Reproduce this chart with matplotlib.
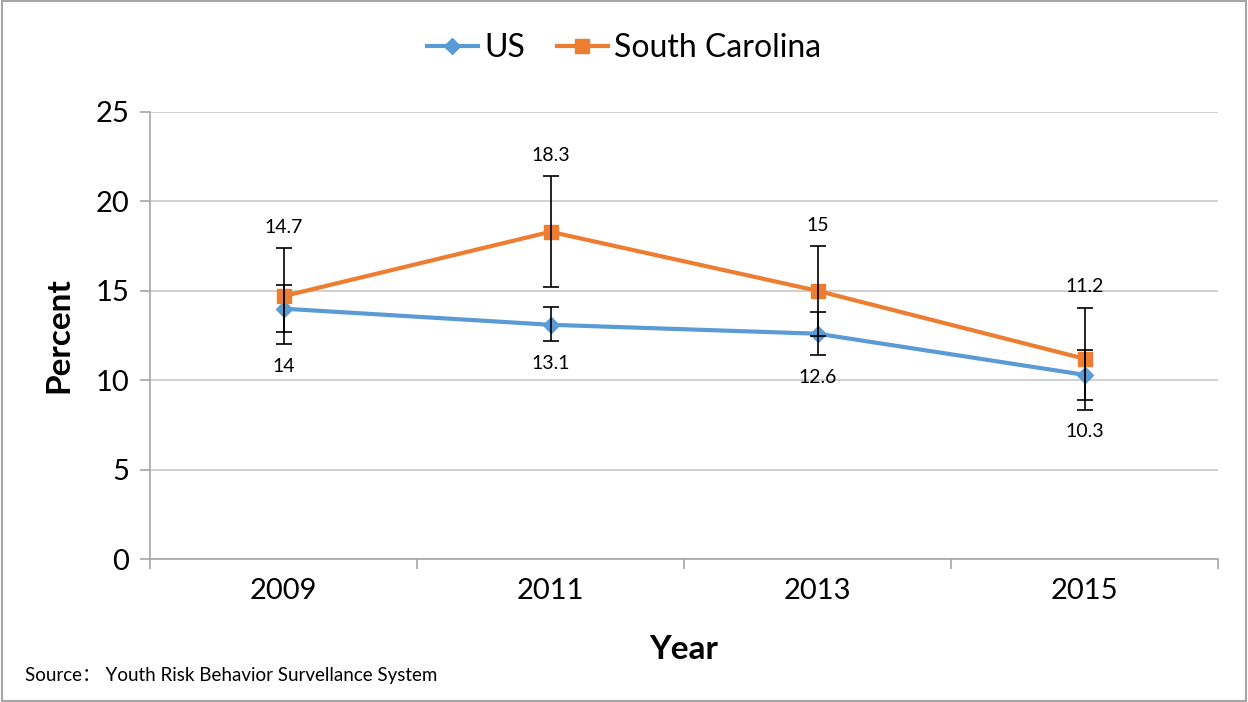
import matplotlib
matplotlib.use("Agg")
import matplotlib.pyplot as plt
from matplotlib.patches import Rectangle

plt.rcParams['font.family'] = ['Lato', 'Noto Sans CJK SC', 'DejaVu Sans']

# données
years = ["2009", "2011", "2013", "2015"]
us = [14, 13.1, 12.6, 10.3]
us_low = [12.7, 12.2, 11.4, 8.9]
us_high = [15.3, 14.1, 13.8, 11.7]
sc = [14.7, 18.3, 15, 11.2]
sc_low = [12.0, 15.2, 12.5, 8.35]
sc_high = [17.4, 21.4, 17.5, 14.05]

blue = "#5b9bd5"
orange = "#ed7d31"

fig = plt.figure(figsize=(12.48, 7.02), dpi=100)
ax = fig.add_axes([150 / 1248, 1 - 559 / 702, (1218 - 150) / 1248, (559 - 112) / 702])

x = list(range(len(years)))

us_err = [[v - l for v, l in zip(us, us_low)], [h - v for v, h in zip(us, us_high)]]
sc_err = [[v - l for v, l in zip(sc, sc_low)], [h - v for v, h in zip(sc, sc_high)]]

ax.plot(x, us, color=blue, lw=3, marker='D', ms=8, label="US", zorder=3)
ax.plot(x, sc, color=orange, lw=3, marker='s', ms=10, label="South Carolina", zorder=4)
ax.errorbar(x, us, yerr=us_err, fmt='none', ecolor='black', elinewidth=1.2, capsize=6, capthick=1.2, zorder=5)
ax.errorbar(x, sc, yerr=sc_err, fmt='none', ecolor='black', elinewidth=1.2, capsize=6, capthick=1.2, zorder=5)

# étiquettes des valeurs
for i in x:
    ax.annotate(f"{sc[i]:g}", (i, sc_high[i]), xytext=(0, 15), textcoords='offset points',
                ha='center', va='center', fontsize=14)
    lowest = min(us_low[i], sc_low[i])
    ax.annotate(f"{us[i]:g}", (i, lowest), xytext=(0, -16), textcoords='offset points',
                ha='center', va='center', fontsize=14)

ax.set_ylim(0, 25)
ax.set_yticks([0, 5, 10, 15, 20, 25])
ax.set_xlim(-0.5, 3.5)
ax.set_xticks(x)
ax.set_xticklabels(years)
ax.set_xticks([-0.5, 0.5, 1.5, 2.5, 3.5], minor=True)
ax.tick_params(axis='x', which='major', length=0, pad=14, labelsize=21)
ax.tick_params(axis='x', which='minor', length=7, color='#a6a6a6', width=1.2)
ax.tick_params(axis='y', length=7, color='#a6a6a6', width=1.2, pad=8, labelsize=21)
ax.grid(axis='y', color='#c8c8c8', lw=1.2)
ax.set_axisbelow(True)
for s in ['top', 'right']:
    ax.spines[s].set_visible(False)
for s in ['left', 'bottom']:
    ax.spines[s].set_color('#a6a6a6')
    ax.spines[s].set_linewidth(1.2)

ax.set_ylabel("Percent", fontsize=24, fontweight='bold', labelpad=16)
ax.set_xlabel("Year", fontsize=24, fontweight='bold', labelpad=22)

fig.legend(loc='center', bbox_to_anchor=(0.5, 1 - 48 / 702), ncol=2, frameon=False,
           fontsize=23, handlelength=1.6, columnspacing=1.0, handletextpad=0.2)

fig.text(25 / 1248, 1 - 676 / 702, "Source： Youth Risk Behavior Survellance System",
         fontsize=13.5, va='center', ha='left')

fig.patches.append(Rectangle((0.002, 0.002), 0.996, 0.996, transform=fig.transFigure,
                             fill=False, edgecolor='#a6a6a6', lw=1.5))

fig.savefig("out.png", dpi=100)
